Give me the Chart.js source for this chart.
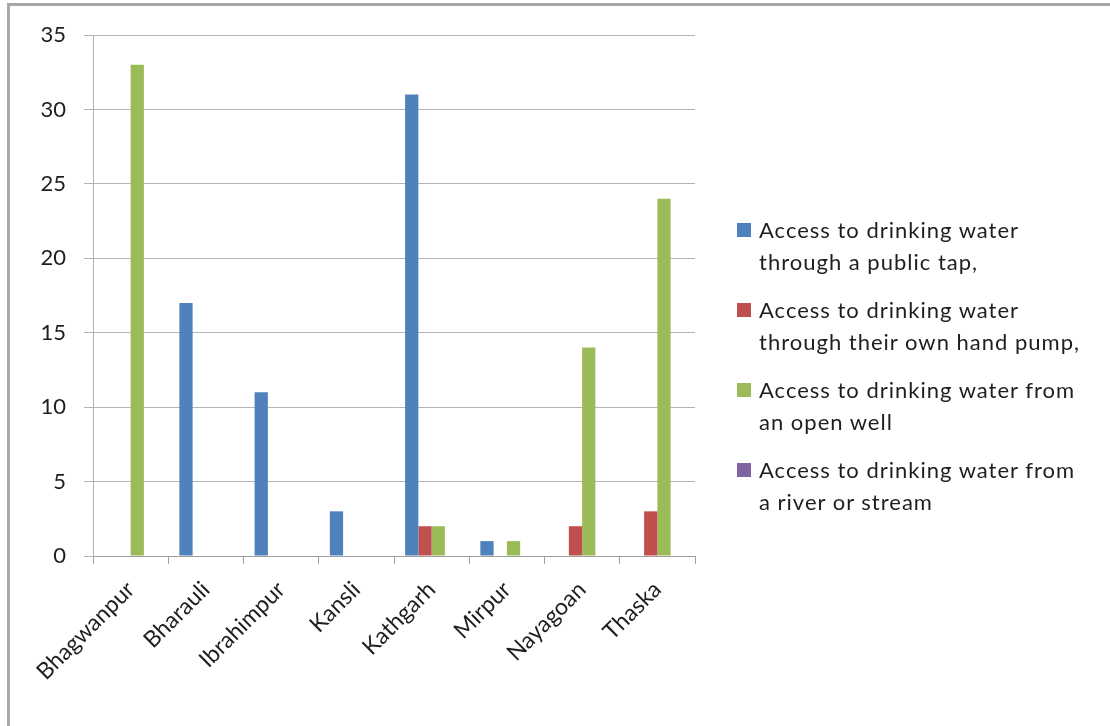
<!DOCTYPE html>
<html>
<head>
<meta charset="utf-8">
<title>Access to drinking water by village</title>
<script src="https://cdn.jsdelivr.net/npm/chart.js@4.4.1/dist/chart.umd.min.js"></script>
<style>
  html, body { margin: 0; padding: 0; background: #fff; overflow: hidden; }
  #wrap { position: relative; width: 1110px; height: 726px; }
  #frame {
    position: absolute; left: 7px; top: 3px; width: 1200px; height: 800px;
    border-left: 3px solid #a8a8a8; border-top: 3px solid #a8a8a8;
  }
  #Chart { position: absolute; left: 0; top: 0; }
  #legend {
    position: absolute; left: 737px; top: 214px;
    font-family: Lato, "Open Sans", sans-serif; font-size: 22px; color: #1e1e1e;
    line-height: 32px; letter-spacing: 1px;
  }
  .item { position: relative; padding-left: 22px; margin-bottom: 16px; white-space: nowrap; }
  .swatch { position: absolute; left: 0; top: 9px; width: 14px; height: 14px; }
</style>
</head>
<body>
<div id="wrap">
  <div id="frame"></div>
  <canvas id="Chart" width="1110" height="726"></canvas>
  <div id="legend"></div>
</div>
<script>
// Villages and household counts per water source
const villages = ["Bhagwanpur", "Bharauli", "Ibrahimpur", "Kansli", "Kathgarh", "Mirpur", "Nayagoan", "Thaska"];
const publicTap = [0, 17, 11, 3, 31, 1, 0, 0];
const handPump = [0, 0, 0, 0, 2, 0, 2, 3];
const openWell = [33, 0, 0, 0, 2, 1, 14, 24];
const riverStream = [0, 0, 0, 0, 0, 0, 0, 0];
const yTicks = [0, 5, 10, 15, 20, 25, 30, 35];

const seriesNames = [
  ["Access to drinking water", "through a public tap,"],
  ["Access to drinking water", "through their own hand pump,"],
  ["Access to drinking water from", "an open well"],
  ["Access to drinking water from", "a river or stream"]
];
const seriesData = [publicTap, handPump, openWell, riverStream];
const seriesColors = ['#4f81bd', '#c0504d', '#9bbb59', '#8064a2'];

const data = {
  labels: villages,
  datasets: seriesData.map((values, i) => ({
    label: seriesNames[i].join(' '),
    data: values,
    backgroundColor: seriesColors[i],
    borderWidth: 0,
    categoryPercentage: 0.705,
    barPercentage: 1.0
  }))
};

const config = {
  type: 'bar',
  data: data,
  options: {
    responsive: false,
    animation: false,
    layout: { padding: { top: 35, right: 415, left: 0, bottom: 0 } },
    plugins: {
      legend: { display: false },
      tooltip: { enabled: false }
    },
    scales: {
      x: {
        grid: { drawOnChartArea: false, drawTicks: true, tickLength: 8, color: '#a0a0a0', offset: true },
        border: { color: '#a0a0a0' },
        ticks: { minRotation: 45, maxRotation: 45, padding: 12, color: '#1e1e1e', font: { family: 'Lato', size: 23 } },
        afterFit: s => { s.height = 170; }
      },
      y: {
        min: 0,
        max: 35,
        afterBuildTicks: s => { s.ticks = yTicks.map(v => ({ value: v })); },
        grid: { color: '#b4b4b4', tickLength: 9 },
        border: { color: '#b4b4b4' },
        ticks: { padding: 18, color: '#1e1e1e', font: { family: 'Lato', size: 22 } },
        afterFit: s => { s.width = 93; }
      }
    }
  }
};

// Legend built from the datasets so the wrapped lines sit as plain text
function buildLegend(chart) {
  const box = document.getElementById('legend');
  chart.data.datasets.forEach((ds, i) => {
    const item = document.createElement('div');
    item.className = 'item';
    const sw = document.createElement('span');
    sw.className = 'swatch';
    sw.style.background = ds.backgroundColor;
    item.appendChild(sw);
    seriesNames[i].forEach(line => {
      const t = document.createElement('div');
      t.textContent = line;
      item.appendChild(t);
    });
    box.appendChild(item);
  });
}

function draw() {
  const ctx = document.getElementById('Chart');
  const chart = new Chart(ctx, config);
  buildLegend(chart);
}

document.fonts.load('22px Lato').then(draw, draw);
</script>
</body>
</html>
